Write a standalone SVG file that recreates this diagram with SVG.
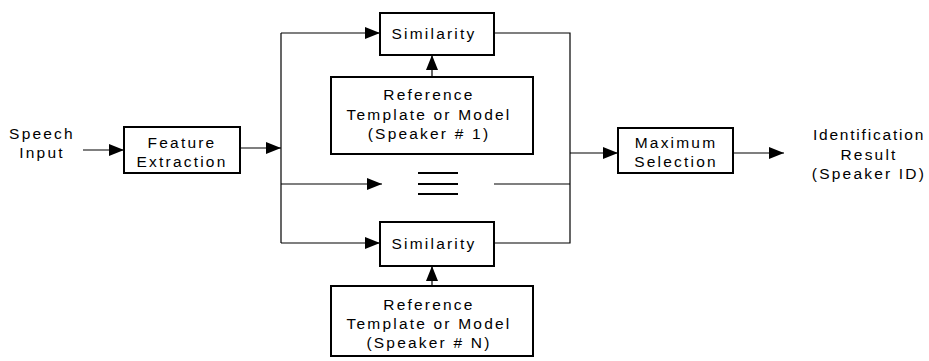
<svg xmlns="http://www.w3.org/2000/svg" width="929" height="361" viewBox="0 0 929 361">
<style>
.box{fill:#fff;stroke:#000;stroke-width:2}
.ln{fill:none;stroke:#000;stroke-width:1.2}
.eq{fill:none;stroke:#000;stroke-width:2}
text{font-family:"Liberation Sans",Arial,sans-serif;font-size:15.5px;letter-spacing:2.2px;fill:#000;text-anchor:middle}
</style>
<defs>
<marker id="ah" markerUnits="userSpaceOnUse" markerWidth="16" markerHeight="12" refX="15" refY="6" orient="auto">
<path d="M0,0 L15,6 L0,12 Z" fill="#000"/>
</marker>
</defs>
<g id="connectors">
<path class="ln" d="M83,150 H124" marker-end="url(#ah)"/>
<path class="ln" d="M240,148 H281" marker-end="url(#ah)"/>
<path class="ln" d="M281,33 V243"/>
<path class="ln" d="M281,33 H380" marker-end="url(#ah)"/>
<path class="ln" d="M281,184 H382" marker-end="url(#ah)"/>
<path class="ln" d="M281,243 H380" marker-end="url(#ah)"/>
<path class="ln" d="M494,33 H570 V243 H494"/>
<path class="ln" d="M494,184 H570"/>
<path class="ln" d="M570,153 H618" marker-end="url(#ah)"/>
<path class="ln" d="M733,153 H784" marker-end="url(#ah)"/>
<path class="ln" d="M432,77 V55" marker-end="url(#ah)"/>
<path class="ln" d="M432,286 V266" marker-end="url(#ah)"/>
<path class="eq" d="M418,173 H458 M418,184 H458 M418,194 H458"/>
</g>
<g id="speech-input">
<text x="42" y="139">Speech</text>
<text x="42" y="158">Input</text>
</g>
<g id="feature-extraction">
<rect class="box" x="124" y="127" width="116" height="46"/>
<text x="182" y="148">Feature</text>
<text x="182" y="167">Extraction</text>
</g>
<g id="similarity-1">
<rect class="box" x="380" y="13" width="114" height="42"/>
<text x="434" y="39">Similarity</text>
</g>
<g id="reference-1">
<rect class="box" x="331" y="77" width="202" height="77"/>
<text x="429" y="100">Reference</text>
<text x="429" y="120">Template or Model</text>
<text x="429" y="139">(Speaker # 1)</text>
</g>
<g id="similarity-n">
<rect class="box" x="380" y="222" width="114" height="44"/>
<text x="434" y="249">Similarity</text>
</g>
<g id="reference-n">
<rect class="box" x="331" y="286" width="202" height="70"/>
<text x="429" y="310">Reference</text>
<text x="429" y="329">Template or Model</text>
<text x="429" y="348">(Speaker # N)</text>
</g>
<g id="maximum-selection">
<rect class="box" x="618" y="128" width="115" height="45"/>
<text x="676" y="148">Maximum</text>
<text x="676" y="167">Selection</text>
</g>
<g id="identification-result">
<text x="869" y="140" style="letter-spacing:1.8px">Identification</text>
<text x="869" y="160">Result</text>
<text x="869" y="179">(Speaker ID)</text>
</g>
</svg>
